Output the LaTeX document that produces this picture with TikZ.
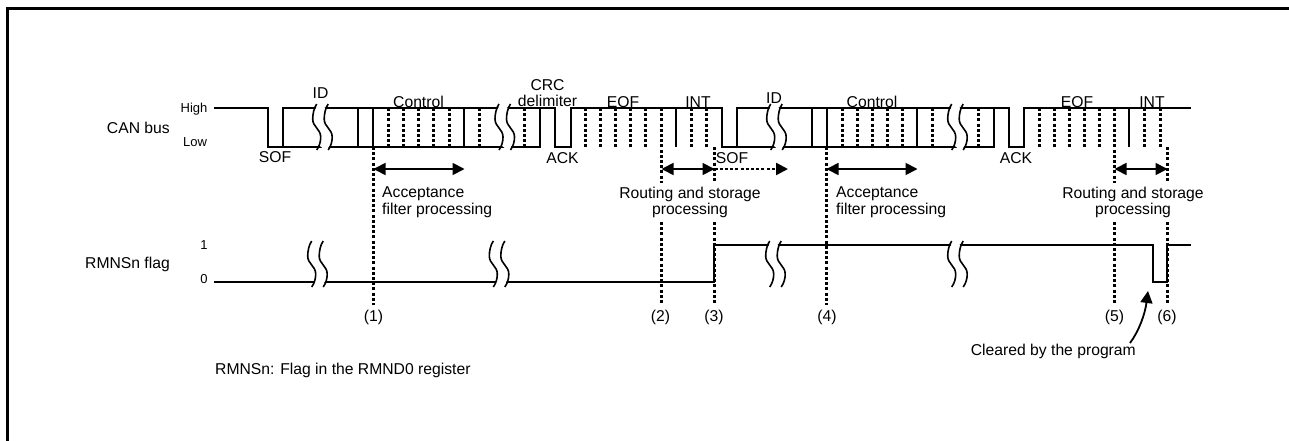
\documentclass[tikz,border=0pt]{standalone}
\usepackage{fontspec}
\setmainfont{Liberation Sans}
\usetikzlibrary{arrows.meta, positioning}

\begin{document}
\begin{tikzpicture}[
  x=1pt, y=-1pt,
  lbl/.style={font=\fontsize{15.7}{18}\selectfont, inner sep=0pt},
  lvl/.style={font=\fontsize{13}{15}\selectfont, inner sep=0pt},
  sig/.style={line width=1.8pt, line join=miter},
  dot/.style={line width=2.4pt, dash pattern=on 3pt off 2.2pt},
  arr/.style={line width=1.8pt, {Triangle[length=12pt,width=12pt]}-{Triangle[length=12pt,width=12pt]}},
  darr/.style={dot, -{Triangle[length=12pt,width=12pt,sep=0pt]}},
  wavebreak/.pic={
    \draw[white, line width=9pt] (9.5,-21) .. controls (6.5,-17) and (5.8,-12) .. (5.8,-8)
      .. controls (5.8,0) and (13.8,2) .. (13.8,10) .. controls (13.8,14) and (12.8,18) .. (9.8,21);
    \foreach \dx in {0,11.5}
      \draw[line width=1.6pt, xshift=\dx pt] (4,-23) .. controls (1,-19) and (0,-12) .. (0,-8)
        .. controls (0,0) and (8,2) .. (8,10) .. controls (8,14) and (7,19) .. (4,23);
  },
]
  \useasboundingbox (0,0) rectangle (1289,441);
  \def\hi{108}
  \def\lo{147}
  \def\fhi{245}
  \def\flo{282}

  % frame
  \draw[line width=3pt] (7.5,441) -- (7.5,8.5) -- (1289,8.5);

  % CAN bus
  \draw[sig] (214,\hi) -| (268,\lo) -| (283,\hi) -- (555,\hi) |- (571,\lo) |- (722,\hi)
    |- (737,\lo) |- (1009,\hi) |- (1024,\lo) |- (1191,\hi);
  \draw[sig] (283,\lo) -| (540,\hi);
  \draw[sig] (737,\lo) -| (994,\hi);
  \foreach \x in {358,373,464,676,812,827,917,1129}
    \draw[sig] (\x,\hi) -- (\x,\lo);
  \foreach \x in {388.5,403.5,418.5,433.5,449.5,479.5,524.5,585.5,600.5,615.5,630.5,645.5,691.5,706.5,
                  842.5,857.5,872.5,887.5,902.5,932.5,978.5,1039.5,1054.5,1069.5,1084.5,1099.5,1144.5,1160.5}
    \draw[dot] (\x,\hi) -- (\x,\lo);
  \foreach \x in {312.7,495,766.7,947.7}
    \pic at (\x,127) {wavebreak};

  % RMNSn flag
  \draw[sig] (214,\flo) -| (714,\fhi) -| (1153,\flo) -| (1167,\fhi) -- (1191,\fhi);
  \foreach \x in {307.7,489.3,765.7,947.7}
    \pic at (\x,264) {wavebreak};

  % timing marks
  \coordinate (a1) at (373.5,169);
  \coordinate (a2) at (464.5,169);
  \coordinate (r1) at (661.5,169);
  \coordinate (r2) at (714.5,169);
  \coordinate (s1) at (788,169);
  \coordinate (a3) at (826.5,169);
  \coordinate (a4) at (917.5,169);
  \coordinate (r3) at (1114.5,169);
  \coordinate (r4) at (1167.5,169);

  \draw[dot] (373.5,\lo) -- (373.5,305);
  \draw[dot] (826.5,\lo) -- (826.5,305);
  \draw[dot] (661.5,\hi) -- (661.5,183);
  \draw[dot] (714.5,\lo) -- (714.5,183);
  \draw[dot] (1114.5,\hi) -- (1114.5,183);
  \draw[dot] (1167.5,\lo) -- (1167.5,183);
  \foreach \x in {661.5,714.5,1114.5,1167.5}
    \draw[dot] (\x,222) -- (\x,305);

  \draw[arr] (a1) -- (a2);
  \draw[arr] (r1) -- (r2);
  \draw[darr] (r2) -- (s1);
  \draw[arr] (a3) -- (a4);
  \draw[arr] (r3) -- (r4);

  % labels
  \node[lbl, anchor=east] (can) at (170,128) {CAN bus};
  \node[lbl, anchor=east] (rmn) at (170,264) {RMNSn flag};
  \node[lvl] (high) at (194,109) {High};
  \node[lvl] (low) at (195,142) {Low};
  \node[lvl] (one) at (204,245.5) {1};
  \node[lvl] (zero) at (204,279) {0};

  \node[lbl] (sof1) at (275,157) {SOF};
  \node[lbl] (id1) at (320.5,93) {ID};
  \node[lbl] (ctl1) at (418.5,102) {Control};
  \node[lbl] (crc) at (547.5,85) {CRC};
  \node[lbl] (dlm) at (547.5,101) {delimiter};
  \node[lbl] (ack1) at (562.5,158) {ACK};
  \node[lbl] (eof1) at (623,102) {EOF};
  \node[lbl] (int1) at (698,102) {INT};
  \node[lbl] (id2) at (774,98) {ID};
  \node[lbl] (ctl2) at (872,102) {Control};
  \node[lbl] (sof2) at (732,158) {SOF};
  \node[lbl] (ack2) at (1016,158) {ACK};
  \node[lbl] (eof2) at (1077,102) {EOF};
  \node[lbl] (int2) at (1152,102) {INT};

  \node[lbl, anchor=west] (acc1) at (382,194) {Acceptance};
  \node[lbl, anchor=west] (fil1) at (382,210) {filter processing};
  \node[lbl, anchor=west] (acc2) at (836,194) {Acceptance};
  \node[lbl, anchor=west] (fil2) at (836,210) {filter processing};
  \node[lbl] (rou1) at (690,194) {Routing and storage};
  \node[lbl] (pro1) at (690,210) {processing};
  \node[lbl] (rou2) at (1133,194) {Routing and storage};
  \node[lbl] (pro2) at (1133,210) {processing};

  \node[lbl] (m1) at (373.5,317) {(1)};
  \node[lbl] (m2) at (660.5,317) {(2)};
  \node[lbl] (m3) at (714,317) {(3)};
  \node[lbl] (m4) at (827,317) {(4)};
  \node[lbl] (m5) at (1114.5,317) {(5)};
  \node[lbl] (m6) at (1167,317) {(6)};

  \node[lbl, anchor=west] (note) at (215,370) {RMNSn: Flag in the RMND0 register};
  \node[lbl, anchor=east] (clr) at (1136,351) {Cleared by the program};
  \coordinate (clrtip) at (1148,291);
  \draw[line width=1.8pt, -{Triangle[length=12pt,width=12pt]}] (1130,343) .. controls (1139,331) and (1145,314) .. (clrtip);
\end{tikzpicture}
\end{document}
